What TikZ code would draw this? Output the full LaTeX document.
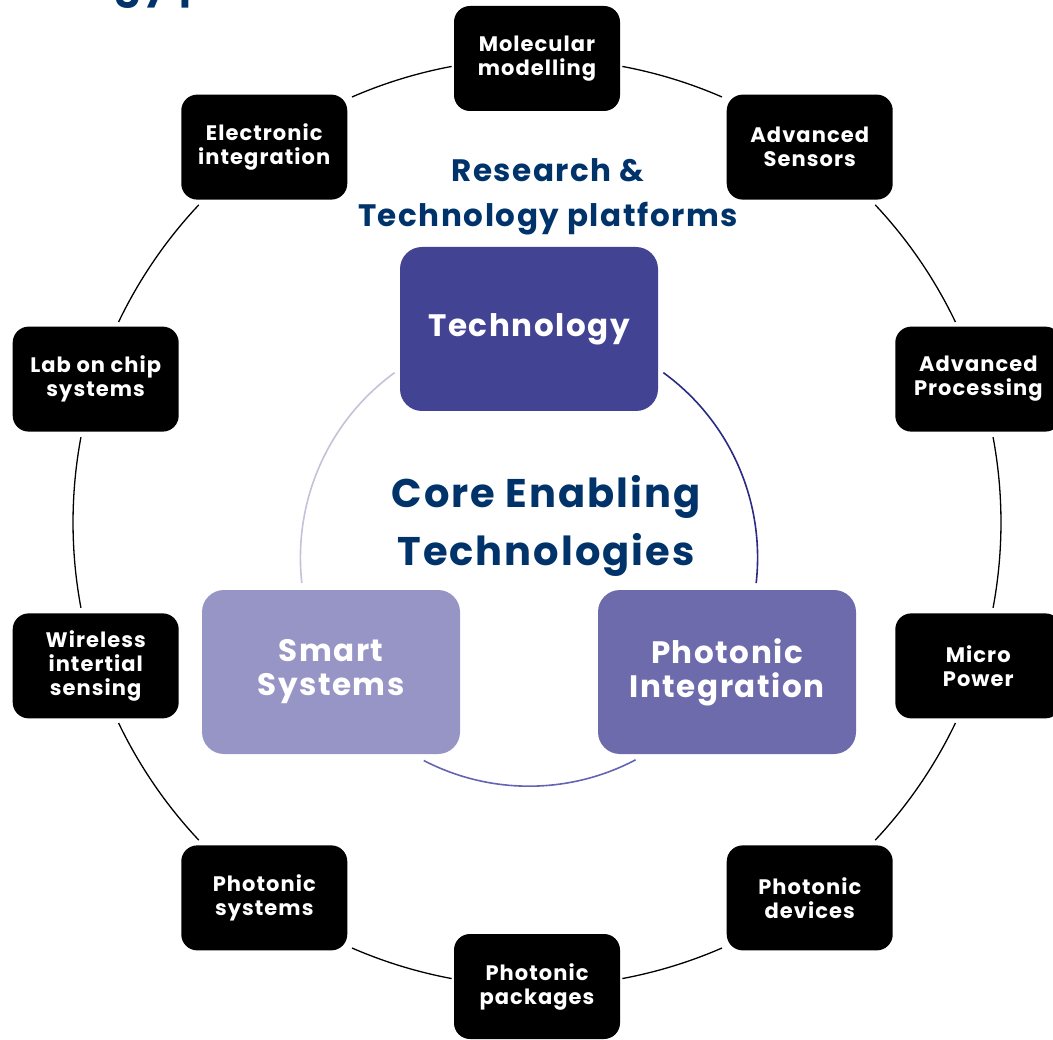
\documentclass[tikz,border=0pt]{standalone}
\usepackage{fontspec}
\setmainfont{Poppins}[LetterSpace=5]
\definecolor{navy}{HTML}{00336A}
\definecolor{techc}{HTML}{434394}
\definecolor{photc}{HTML}{6D6BAB}
\definecolor{smartc}{HTML}{9695C5}
\definecolor{arcL}{HTML}{C3C2D8}
\definecolor{arcR}{HTML}{2B2A85}
\definecolor{arcB}{HTML}{6563B5}
\tikzset{
  blk/.style={fill=black, rounded corners=16pt, minimum width=166pt, minimum height=105pt,
    text=white, align=center, inner sep=0pt, font=\bfseries\fontsize{21}{24}\selectfont},
  core/.style={rounded corners=22pt, minimum width=258pt, minimum height=164pt,
    text=white, align=center, inner sep=0pt, font=\bfseries\fontsize{31}{34}\selectfont},
  ring/.style={black, line width=1.3pt},
  title/.style={text=navy, align=center, inner sep=0pt}
}
\begin{document}
\begin{tikzpicture}[x=1pt,y=1pt]
\useasboundingbox (0,0) rectangle (1053,-1040);
\begin{scope}
\clip (0,0) rectangle (1053,-1040);
% cut-off title fragment at the very top
\node[title, anchor=base west, font=\bfseries\fontsize{40}{44}\selectfont] (frag) at (114,2) {gy p};

\coordinate (O) at (537,-522.5);
% outer ring arcs
\foreach \a/\b in {79.4/66.5, 43.2/25.6, 10.6/-10.6, -25.6/-43.2, -66.5/-79.4,
                   -100.6/-113.5, -136.8/-154.4, -169.4/-190.6, 154.4/136.8, 113.5/100.6}
  \draw[ring] ([shift={(\a:464)}]O) arc[start angle=\a, end angle=\b, radius=464];

% outer boxes
\node[blk] (mol)  at ([shift={(90:464)}]O)   {Molecular\\modelling};
\node[blk] (sens) at ([shift={(54:464)}]O)   {Advanced\\Sensors};
\node[blk] (proc) at ([shift={(18:464)}]O)   {Advanced\\Processing};
\node[blk] (pow)  at ([shift={(-18:464)}]O)  {Micro\\Power};
\node[blk] (pdev) at ([shift={(-54:464)}]O)  {Photonic\\devices};
\node[blk] (ppkg) at ([shift={(-90:464)}]O)  {Photonic\\packages};
\node[blk] (psys) at ([shift={(-126:464)}]O) {Photonic\\systems};
\node[blk] (wis)  at ([shift={(-162:464)}]O) {Wireless\\intertial\\sensing};
\node[blk] (lab)  at ([shift={(162:464)}]O)  {Lab on chip\\systems};
\node[blk] (elec) at ([shift={(126:464)}]O)  {Electronic\\integration};

% inner cycle
\coordinate (I) at (529,-557.6);
\draw[arcL, line width=1.6pt] ([shift={(126:228.6)}]I) arc[start angle=126, end angle=186.4, radius=228.6];
\draw[arcR, line width=1.6pt] ([shift={(54:228.6)}]I) arc[start angle=54, end angle=-6.4, radius=228.6];
\draw[arcB, line width=1.6pt] ([shift={(242.6:228.6)}]I) arc[start angle=242.6, end angle=297.8, radius=228.6];

\node[core, fill=techc]  (tech)  at (529,-329) {Technology};
\node[core, fill=smartc] (smart) at (331,-672) {Smart\\Systems};
\node[core, fill=photc]  (phot)  at (727,-672) {Photonic\\Integration};

\node[title, font=\bfseries\fontsize{31}{45}\selectfont] (rtp) at (548,-197) {Research \&\\Technology platforms};
\node[title, font=\bfseries\fontsize{40}{58}\selectfont] (cet) at (546,-526) {Core Enabling\\Technologies};
\end{scope}
\end{tikzpicture}
\end{document}
